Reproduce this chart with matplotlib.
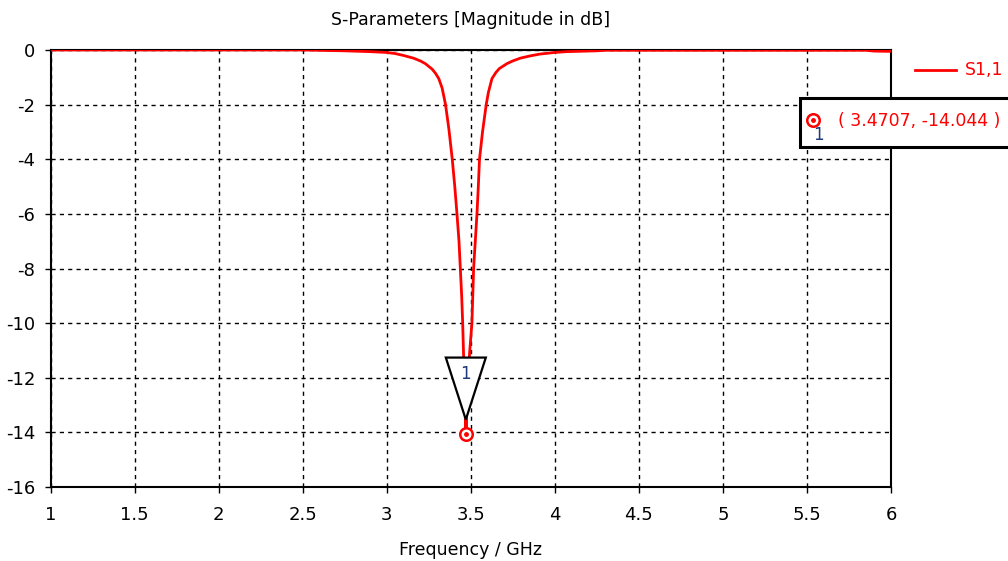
import numpy as np
import matplotlib
matplotlib.use("Agg")
import matplotlib.pyplot as plt
import matplotlib.transforms as mtransforms
from matplotlib.patches import Polygon, Rectangle

########## data ##########
freq = [1.0, 2.5, 2.75, 2.9, 3.0, 3.05, 3.1, 3.16, 3.2, 3.23, 3.27, 3.29, 3.31, 3.33, 3.35,
        3.37, 3.39, 3.405, 3.418, 3.43, 3.438, 3.446, 3.452, 3.457, 3.463, 3.4707,
        3.478, 3.486, 3.493, 3.507, 3.517, 3.527, 3.537, 3.545, 3.552, 3.57, 3.592,
        3.605, 3.626, 3.65, 3.67, 3.715, 3.75, 3.794, 3.85, 3.91, 4.0, 4.07, 4.25, 4.3,
        5.85, 5.9, 6.0]
s11_db = [0.0, 0.0, -0.03, -0.06, -0.09, -0.13, -0.2, -0.3, -0.4, -0.5, -0.7, -0.85, -1.05,
          -1.4, -2.0, -2.9, -4.0, -5.0, -6.0, -7.0, -8.0, -9.0, -10.0, -11.1, -12.5,
          -14.044, -13.0, -12.0, -11.1, -10.0, -8.0, -7.0, -6.0, -5.0, -4.0, -3.0, -2.0,
          -1.55, -1.05, -0.82, -0.68, -0.5, -0.4, -0.3, -0.22, -0.15, -0.09, -0.06, -0.03,
          -0.01, -0.01, -0.04, -0.05]
marker_f = 3.4707
marker_db = -14.044
xticks = [1, 1.5, 2, 2.5, 3, 3.5, 4, 4.5, 5, 5.5, 6]
yticks = [0, -2, -4, -6, -8, -10, -12, -14, -16]
###############################################

plt.rcParams['font.family'] = ['DejaVu Sans']
plt.rcParams['axes.unicode_minus'] = False

fig = plt.figure(figsize=(10.08, 5.61), dpi=100)
ax = fig.add_axes([50.5/1008, (561-487)/561, 840.5/1008, 437/561])

ax.plot(freq, s11_db, color="#ff0000", lw=2.0, zorder=3, solid_joinstyle="round")
ax.set_xlim(1, 6)
ax.set_ylim(-16, 0)
ax.set_xticks(xticks)
ax.set_xticklabels([f"{t:g}" for t in xticks])
ax.set_yticks(yticks)
ax.grid(True, color="black", linestyle=(0, (3, 3)), lw=1.0, zorder=1)
ax.set_axisbelow(True)
ax.tick_params(axis="x", direction="out", length=4, width=1, labelsize=13, pad=10, colors="black")
ax.tick_params(axis="y", direction="out", length=4, width=1, labelsize=13, pad=7, colors="black")
for s in ax.spines.values():
    s.set_linewidth(1.5)
    s.set_zorder(2.5)
ax.set_title("S-Parameters [Magnitude in dB]", fontsize=12.5, pad=18)
ax.set_xlabel("Frequency / GHz", fontsize=12.5, labelpad=12)

# marker 1: triangle with white fill (hides curve), label and circle
off = fig.dpi_scale_trans + mtransforms.ScaledTranslation(marker_f, marker_db, ax.transData)
tri = Polygon([(-0.20, 0.76), (0.20, 0.76), (0.0, 0.14)], closed=True,
              facecolor="white", edgecolor="black", lw=1.6, transform=off, zorder=5,
              clip_on=False)
ax.add_patch(tri)
ax.annotate("1", (marker_f, marker_db), xytext=(0, 43), textcoords="offset points",
            ha="center", va="center", fontsize=12, color="#1f3a7a", zorder=6)
ax.plot([marker_f, marker_f], [marker_db, marker_db + 0.5], color="#ff0000", lw=2, zorder=4)
ax.plot(marker_f, marker_db, marker="o", ms=9, mfc="white", mec="#ff0000", mew=1.8,
        zorder=6, clip_on=False)
ax.plot(marker_f, marker_db, marker="o", ms=2.5, color="#ff0000", zorder=7, clip_on=False)

# legend outside on the right
fig.add_artist(plt.Line2D([915/1008, 956/1008], [1 - 70/561, 1 - 70/561],
                          color="#ff0000", lw=2, transform=fig.transFigure))
fig.text(965/1008, 1 - 70/561, "S1,1", color="#ff0000", fontsize=12.5, va="center", ha="left")

# marker readout box
box = Rectangle((800/1008, 1 - 147/561), 220/1008, 49/561, transform=fig.transFigure,
                facecolor="white", edgecolor="black", lw=2.2, clip_on=False)
fig.add_artist(box)
fig.add_artist(plt.Line2D([813/1008], [1 - 120/561], marker="o", ms=9, mfc="white",
                          mec="#ff0000", mew=1.8, transform=fig.transFigure))
fig.add_artist(plt.Line2D([813/1008], [1 - 120/561], marker="o", ms=2.5, color="#ff0000",
                          transform=fig.transFigure))
fig.text(818/1008, 1 - 135/561, "1", color="#1f3a7a", fontsize=12,
         ha="center", va="center")
fig.text(838/1008, 1 - 121/561, f"( {marker_f}, {marker_db} )", color="#ff0000",
         fontsize=12.5, va="center", ha="left")

fig.savefig("out.png", dpi=100)
